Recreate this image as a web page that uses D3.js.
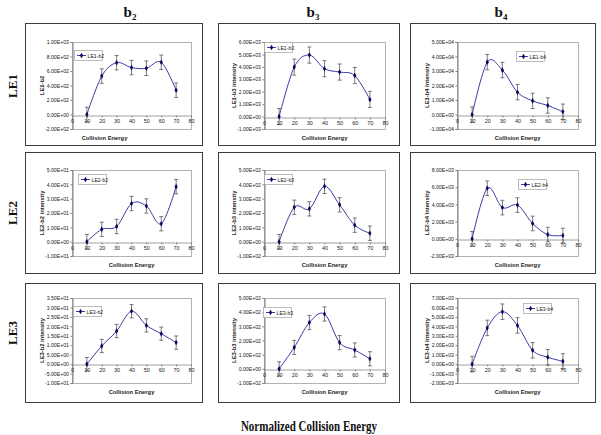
<!DOCTYPE html>
<html>
<head>
<meta charset="utf-8">
<script src="https://cdn.jsdelivr.net/npm/d3@7"></script>
<style>
  html, body { margin: 0; padding: 0; background: #fff; }
  svg { display: block; }
</style>
</head>
<body>
<svg id="chart" width="601" height="435"></svg>
<script>
// ---------- DATA ----------
const energies = [10, 20, 30, 40, 50, 60, 70];
const xTicks = [0, 10, 20, 30, 40, 50, 60, 70, 80];

const columnHeaders = ["2", "3", "4"];          // b subscripts
const rowHeaders = ["LE1", "LE2", "LE3"];
const footerTitle = "Normalized Collision Energy";
const xAxisTitle = "Collision Energy";

const seriesNames = ["LE1-b2", "LE1-b3", "LE1-b4", "LE2-b2", "LE2-b3", "LE2-b4", "LE3-b2", "LE3-b3", "LE3-b4"];
const yAxisTitles = ["LE1-b2", "LE1-b3 intensity", "LE1-b4 Intensity",
                     "LE2-b2 intensity", "LE2-b3 intensity", "LE2-b4 Intensity",
                     "LE3-b2 intensity", "LE3-b3 intensity", "LE3-b4 Intensity"];

const le1b2 = [0, 530, 715, 647, 638, 720, 335];
const le1b2Err = [100, 100, 100, 100, 100, 100, 100];
const le1b3 = [0, 3980, 4950, 3850, 3580, 3300, 1380];
const le1b3Err = [650, 650, 650, 650, 650, 650, 650];
const le1b4 = [0, 36100, 30600, 15400, 9400, 6200, 1900];
const le1b4Err = [5300, 5300, 5300, 5300, 5300, 5300, 5300];

const le2b2 = [0, 8.6, 10.6, 26.6, 24.9, 12.5, 38.4];
const le2b2Err = [5, 5, 5, 5, 5, 5, 5];
const le2b3 = [0, 240, 229, 386, 257, 115, 59];
const le2b3Err = [50, 50, 50, 50, 50, 50, 50];
const le2b4 = [0, 5880, 3630, 3920, 1780, 490, 380];
const le2b4Err = [850, 850, 850, 850, 850, 850, 850];

const le3b2 = [0, 9.6, 17.5, 28.0, 20.5, 16.1, 11.4];
const le3b2Err = [3.5, 3.5, 3.5, 3.5, 3.5, 3.5, 3.5];
const le3b3 = [0, 151, 327, 387, 185, 133, 71];
const le3b3Err = [50, 50, 50, 50, 50, 50, 50];
const le3b4 = [0, 3830, 5550, 4090, 1460, 730, 290];
const le3b4Err = [820, 820, 820, 820, 820, 820, 820];

const seriesValues = [le1b2, le1b3, le1b4, le2b2, le2b3, le2b4, le3b2, le3b3, le3b4];
const seriesErrors = [le1b2Err, le1b3Err, le1b4Err, le2b2Err, le2b3Err, le2b4Err, le3b2Err, le3b3Err, le3b4Err];

// y axis ranges: [min, max, step]
const yMins  = [-200, -1000, -10000, -10, -100, -2000, -10, -100, -2000];
const yMaxs  = [1000, 6000, 50000, 50, 500, 8000, 35, 500, 7000];
const ySteps = [200, 1000, 10000, 10, 100, 2000, 5, 100, 1000];

// ---------- LAYOUT ----------
const colBox = [[25, 202], [218, 399], [410, 595]];
const rowBox = [[23, 145], [152, 273], [283, 402]];
const insetL = [47, 46, 47], insetR = [11, 14, 17];
const insetT = [19, 18, 15], insetB = [16, 17, 19];
// legend offsets [dx, dy] from plot top-left
const legendOffsets = [[2, 8], [0, 0], [59, 9], [6, 4], [0, 4], [61, 9], [1, 8], [-1, 9], [66, 5]];
const xTitleShift = [-27, 0, 0, 0, 0, 0, 0, 0, 0];

const lineColor = "#3a3aa8";
const markerColor = "#0a0a5a";
const sansFont = "'Liberation Sans', Arial, sans-serif";
const serifFont = "'Liberation Serif', 'Times New Roman', serif";

const svg = d3.select("#chart");

function fmtE(v) {
  const s = v.toExponential(2); // e.g. "1.00e+3"
  const [m, e] = s.split("e");
  const sign = e[0] === "-" ? "-" : "+";
  const digits = e.replace(/[+-]/, "").padStart(2, "0");
  return m.toUpperCase() + "E" + sign + digits;
}

const diamond = d3.symbol().type(d3.symbolDiamond).size(9);

seriesValues.forEach((vals, i) => {
  const r = Math.floor(i / 3), c = i % 3;
  const bx0 = colBox[c][0], bx1 = colBox[c][1];
  const by0 = rowBox[r][0], by1 = rowBox[r][1];
  const L = bx0 + insetL[c], R = bx1 - insetR[c];
  const T = by0 + insetT[r], B = by1 - insetB[r];

  const g = svg.append("g");

  // outer chart box
  g.append("rect")
    .attr("x", bx0 + 0.5).attr("y", by0 + 0.5)
    .attr("width", bx1 - bx0).attr("height", by1 - by0)
    .attr("fill", "#fff").attr("stroke", "#3c3c3c").attr("stroke-width", 1);

  const x = d3.scaleLinear().domain([0, 80]).range([L, R]);
  const y = d3.scaleLinear().domain([yMins[i], yMaxs[i]]).range([B, T]);
  const yTicks = d3.range(yMins[i], yMaxs[i] + ySteps[i] / 2, ySteps[i]);

  // plot area border
  g.append("rect")
    .attr("x", L + 0.5).attr("y", T + 0.5)
    .attr("width", R - L).attr("height", B - T)
    .attr("fill", "#fff").attr("stroke", "#a0a0a0").attr("stroke-width", 0.8);

  // y axis
  const yAxis = d3.axisLeft(y).tickValues(yTicks).tickSize(2).tickPadding(1.5).tickFormat(fmtE);
  const ya = g.append("g").attr("transform", `translate(${L + 0.5},0)`).call(yAxis);
  ya.select(".domain").attr("stroke", "#808080");
  ya.selectAll(".tick line").attr("stroke", "#808080");
  ya.selectAll("text").attr("font-family", sansFont).attr("font-size", 5.2).attr("fill", "#222");

  // x axis at y = 0
  const xAxis = d3.axisBottom(x).tickValues(xTicks).tickSize(2).tickPadding(1.5).tickFormat(d3.format("d"));
  const xa = g.append("g").attr("transform", `translate(0,${Math.round(y(0)) + 0.5})`).call(xAxis);
  xa.select(".domain").attr("stroke", "#a0a0a0");
  xa.selectAll(".tick line").attr("stroke", "#808080");
  xa.selectAll("text").attr("font-family", sansFont).attr("font-size", 5.5).attr("fill", "#222");

  // error bars
  const pts = energies.map((e, k) => ({ e, v: vals[k], err: seriesErrors[i][k] }));
  const eb = g.append("g").attr("stroke", "#444").attr("stroke-width", 0.7);
  pts.forEach(p => {
    const px = x(p.e);
    eb.append("line").attr("x1", px).attr("x2", px).attr("y1", y(p.v - p.err)).attr("y2", y(p.v + p.err));
    eb.append("line").attr("x1", px - 2).attr("x2", px + 2).attr("y1", y(p.v - p.err)).attr("y2", y(p.v - p.err));
    eb.append("line").attr("x1", px - 2).attr("x2", px + 2).attr("y1", y(p.v + p.err)).attr("y2", y(p.v + p.err));
  });

  // smoothed line
  const line = d3.line().x(p => x(p.e)).y(p => y(p.v)).curve(d3.curveCardinal.tension(0));
  g.append("path").datum(pts).attr("d", line)
    .attr("fill", "none").attr("stroke", lineColor).attr("stroke-width", 1);

  // markers
  g.selectAll(null).data(pts).enter().append("path")
    .attr("d", diamond)
    .attr("transform", p => `translate(${x(p.e)},${y(p.v)})`)
    .attr("fill", markerColor);

  // legend
  const lx = L + legendOffsets[i][0], ly = T + legendOffsets[i][1];
  const lg = g.append("g").attr("transform", `translate(${lx},${ly})`);
  lg.append("rect").attr("x", 0.5).attr("y", 0.5).attr("width", 28).attr("height", 10)
    .attr("fill", "#fff").attr("stroke", "#a0a0a0").attr("stroke-width", 0.7);
  lg.append("line").attr("x1", 3).attr("x2", 12).attr("y1", 5.5).attr("y2", 5.5)
    .attr("stroke", lineColor).attr("stroke-width", 1);
  lg.append("path").attr("d", diamond).attr("transform", "translate(7.5,5.5)").attr("fill", markerColor);
  lg.append("text").attr("x", 13.5).attr("y", 7.5).text(seriesNames[i])
    .attr("font-family", sansFont).attr("font-size", 5.2).attr("fill", "#222");

  // y axis title
  g.append("text")
    .attr("transform", `translate(${L - 28},${(T + B) / 2}) rotate(-90)`)
    .attr("text-anchor", "middle")
    .attr("font-family", sansFont).attr("font-size", 5.8).attr("font-weight", "bold").attr("fill", "#222")
    .text(yAxisTitles[i]);

  // x axis title
  g.append("text")
    .attr("x", (L + R) / 2 + xTitleShift[i]).attr("y", B + 11)
    .attr("text-anchor", "middle")
    .attr("font-family", sansFont).attr("font-size", 5.8).attr("font-weight", "bold").attr("fill", "#222")
    .text(xAxisTitle);
});

// column headers b2, b3, b4
const headerX = [130, 313, 501];
columnHeaders.forEach((sub, c) => {
  const t = svg.append("text")
    .attr("x", headerX[c]).attr("y", 17)
    .attr("text-anchor", "middle")
    .attr("font-family", serifFont).attr("font-weight", "bold").attr("font-size", 15).attr("fill", "#111");
  t.append("tspan").text("b");
  t.append("tspan").attr("font-size", 9).attr("dy", 3).text(sub);
});

// row headers
const rowCenters = [86, 213, 333];
rowHeaders.forEach((lab, r) => {
  svg.append("text")
    .attr("transform", `translate(17,${rowCenters[r]}) rotate(-90)`)
    .attr("text-anchor", "middle")
    .attr("font-family", serifFont).attr("font-weight", "bold").attr("font-size", 13).attr("fill", "#111")
    .text(lab);
});

// footer
svg.append("text")
  .attr("transform", "translate(309,431) scale(1,1.3)")
  .attr("text-anchor", "middle")
  .attr("font-family", serifFont).attr("font-weight", "bold").attr("font-size", 11).attr("fill", "#111")
  .text(footerTitle);
</script>
</body>
</html>
